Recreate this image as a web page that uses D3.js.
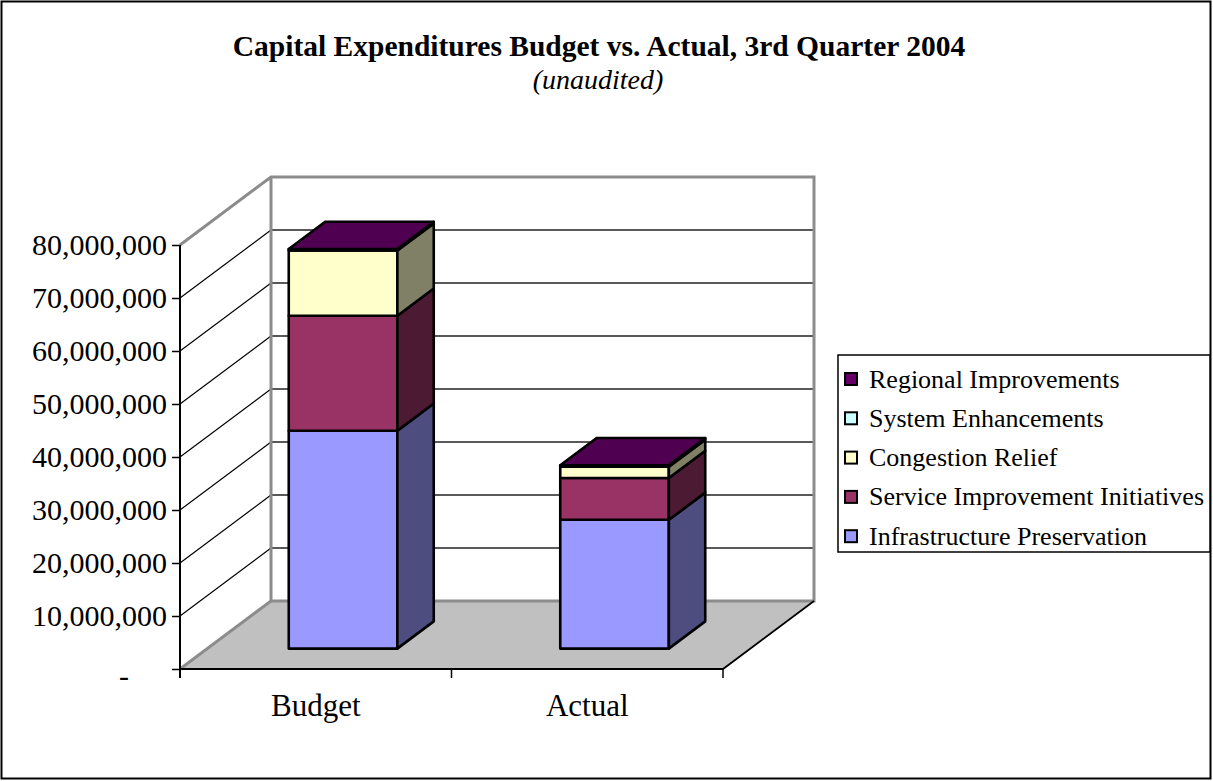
<!DOCTYPE html>
<html>
<head>
<meta charset="utf-8">
<script src="https://cdn.jsdelivr.net/npm/d3@7"></script>
<style>
  html, body { margin: 0; padding: 0; background: #fff; }
  svg { display: block; font-family: "Liberation Serif", "Times New Roman", serif; }
</style>
</head>
<body>
<svg id="chart" width="1213" height="781"></svg>
<script>
// Capital expenditures by program, budget vs. actual (3rd quarter 2004)
const categories = ["Budget", "Actual"];
const seriesNames = [
  "Infrastructure Preservation",
  "Service Improvement Initiatives",
  "Congestion Relief",
  "System Enhancements",
  "Regional Improvements"
];
const infrastructurePreservation = [41100000, 24300000];
const serviceImprovement = [21700000, 7900000];
const congestionRelief = [12300000, 2100000];
const systemEnhancements = [0, 0];
const regionalImprovements = [300000, 300000];
const seriesColors = ["#9999FF", "#993366", "#FFFFCC", "#CCFFFF", "#660066"];
const yTickValues = [0, 10000000, 20000000, 30000000, 40000000, 50000000, 60000000, 70000000, 80000000];

const seriesValues = [
  infrastructurePreservation,
  serviceImprovement,
  congestionRelief,
  systemEnhancements,
  regionalImprovements
];

// rows for d3.stack
const rows = categories.map((c, i) => {
  const r = { category: c };
  seriesNames.forEach((s, k) => { r[s] = seriesValues[k][i]; });
  return r;
});
const stacked = d3.stack().keys(seriesNames)(rows);

const svg = d3.select("#chart");

// outer frame
svg.append("rect")
  .attr("x", 1.5).attr("y", 1.5).attr("width", 1209).attr("height", 777)
  .attr("fill", "none").attr("stroke", "#000").attr("stroke-width", 2);

// title
svg.append("text")
  .attr("x", 599).attr("y", 56)
  .attr("text-anchor", "middle")
  .attr("font-size", 29.5).attr("font-weight", "bold")
  .text("Capital Expenditures Budget vs. Actual, 3rd Quarter 2004");
svg.append("text")
  .attr("x", 598).attr("y", 89)
  .attr("text-anchor", "middle")
  .attr("font-size", 28).attr("font-style", "italic")
  .text("(unaudited)");

// scales: front plane; depth shifts points by (DX, DY)
const y = d3.scaleLinear().domain([0, 80000000]).range([669, 245]);
const x = d3.scaleBand().domain(categories).range([180, 723]).padding(0);
const DX = 91, DY = -68;
const P = (px, v, z) => [px + z * DX, y(v) + z * DY];
const poly = pts => "M" + pts.map(p => p.join(",")).join("L") + "Z";

const x0 = x.range()[0], x1 = x.range()[1];
const vMax = y.domain()[1];

const walls = svg.append("g");

// floor
walls.append("path")
  .attr("d", poly([P(x0, 0, 0), P(x1, 0, 0), P(x1, 0, 1), P(x0, 0, 1)]))
  .attr("fill", "#C0C0C0").attr("stroke", "none");
// back wall and side wall
walls.append("path")
  .attr("d", poly([P(x0, 0, 1), P(x1, 0, 1), P(x1, vMax, 1), P(x0, vMax, 1)]))
  .attr("fill", "#fff").attr("stroke", "none");
walls.append("path")
  .attr("d", poly([P(x0, 0, 0), P(x0, 0, 1), P(x0, vMax, 1), P(x0, vMax, 0)]))
  .attr("fill", "#fff").attr("stroke", "none");

// gridlines on side wall and back wall
const gridVals = yTickValues.filter(v => v > 0 && v < vMax);
walls.selectAll(".gside").data(gridVals).join("path")
  .attr("d", v => "M" + P(x0, v, 0).join(",") + "L" + P(x0, v, 1).join(","))
  .attr("stroke", "#000").attr("stroke-width", 1.2).attr("fill", "none");
walls.selectAll(".gback").data(gridVals).join("path")
  .attr("d", v => "M" + P(x0, v, 1).join(",") + "L" + P(x1, v, 1).join(","))
  .attr("stroke", "#222").attr("stroke-width", 1.5).attr("fill", "none");

// wall outlines (gray)
walls.append("path")
  .attr("d", "M" + [P(x0, vMax, 0), P(x0, vMax, 1), P(x1, vMax, 1), P(x1, 0, 1), P(x0, 0, 1), P(x0, vMax, 1)].map(p => p.join(",")).join("L"))
  .attr("fill", "none").attr("stroke", "#8C8C8C").attr("stroke-width", 3).attr("stroke-linejoin", "miter");
walls.append("path")
  .attr("d", "M" + P(x0, 0, 0).join(",") + "L" + P(x0, 0, 1).join(","))
  .attr("fill", "none").attr("stroke", "#8C8C8C").attr("stroke-width", 3);
// floor front and right edges
walls.append("path")
  .attr("d", "M" + [P(x0, 0, 0), P(x1, 0, 0), P(x1, 0, 1)].map(p => p.join(",")).join("L"))
  .attr("fill", "none").attr("stroke", "#000").attr("stroke-width", 1.8);

// value axis on the front-left edge
const yAxis = d3.axisLeft(y)
  .tickValues(yTickValues)
  .tickSizeOuter(0)
  .tickSize(8)
  .tickPadding(5)
  .tickFormat(v => v === 0 ? "-" : d3.format(",")(v));
const ya = svg.append("g").attr("transform", `translate(${x0},0)`).call(yAxis);
ya.select(".domain").attr("stroke", "#000").attr("stroke-width", 2)
  .attr("d", `M0,${y(vMax)}V${y(0) + 9}`);
ya.selectAll(".tick line").attr("stroke", "#000").attr("stroke-width", 1.5);
ya.selectAll(".tick text")
  .attr("font-family", "Liberation Serif, Times New Roman, serif")
  .attr("font-size", 30).attr("fill", "#000")
  .attr("dx", v => v === 0 ? -38 : 0)
  .attr("dy", v => v === 0 ? "0.55em" : "0.32em");

// category axis: ticks between categories, labels centred
const bounds = [x0].concat(categories.map(c => x(c) + x.bandwidth()));
svg.selectAll(".xtick").data(bounds).join("line")
  .attr("x1", d => d).attr("x2", d => d)
  .attr("y1", y(0)).attr("y2", y(0) + 9)
  .attr("stroke", "#000").attr("stroke-width", 1.5);
svg.selectAll(".xlabel").data(categories).join("text")
  .attr("x", c => x(c) + x.bandwidth() / 2)
  .attr("y", 716)
  .attr("text-anchor", "middle")
  .attr("font-size", 31)
  .text(c => c);

// 3D stacked bars
const zFront = 0.3, zBack = 0.7, barFrac = 0.4;
const shade = (c, k) => { const o = d3.rgb(c); return d3.rgb(o.r * k, o.g * k, o.b * k).formatHex(); };

const barsG = svg.append("g")
  .attr("stroke", "#000").attr("stroke-width", 2.6).attr("stroke-linejoin", "round");

categories.forEach((c, i) => {
  const bw = x.bandwidth() * barFrac;
  const xl = x(c) + (x.bandwidth() - bw) / 2;
  const xr = xl + bw;
  stacked.forEach((layer, k) => {
    const [v0, v1] = layer[i];
    if (v1 - v0 <= 0) return;
    // front face
    barsG.append("path")
      .attr("d", poly([P(xl, v0, zFront), P(xr, v0, zFront), P(xr, v1, zFront), P(xl, v1, zFront)]))
      .attr("fill", seriesColors[k]);
    // right side face
    barsG.append("path")
      .attr("d", poly([P(xr, v0, zFront), P(xr, v0, zBack), P(xr, v1, zBack), P(xr, v1, zFront)]))
      .attr("fill", shade(seriesColors[k], 0.5));
  });
  const vt = stacked[stacked.length - 1][i][1];
  barsG.append("path")
    .attr("d", poly([P(xl, vt, zFront), P(xr, vt, zFront), P(xr, vt, zBack), P(xl, vt, zBack)]))
    .attr("fill", shade(seriesColors[stacked.length - 1], 0.78));
});

// legend (top entry is the top of the stack)
const legend = svg.append("g");
legend.append("rect")
  .attr("x", 838).attr("y", 355).attr("width", 372).attr("height", 197)
  .attr("fill", "#fff").attr("stroke", "#000").attr("stroke-width", 1.5);
const legendOrder = seriesNames.map((s, k) => k).reverse();
const li = legend.selectAll(".li").data(legendOrder).join("g")
  .attr("transform", (k, j) => `translate(845,${379 + j * 39.3})`);
li.append("rect")
  .attr("x", 0).attr("y", -6).attr("width", 12).attr("height", 12)
  .attr("fill", k => seriesColors[k]).attr("stroke", "#000").attr("stroke-width", 2);
li.append("text")
  .attr("x", 24).attr("y", 0).attr("dy", "0.33em")
  .attr("font-size", 26)
  .text(k => seriesNames[k]);
</script>
</body>
</html>
